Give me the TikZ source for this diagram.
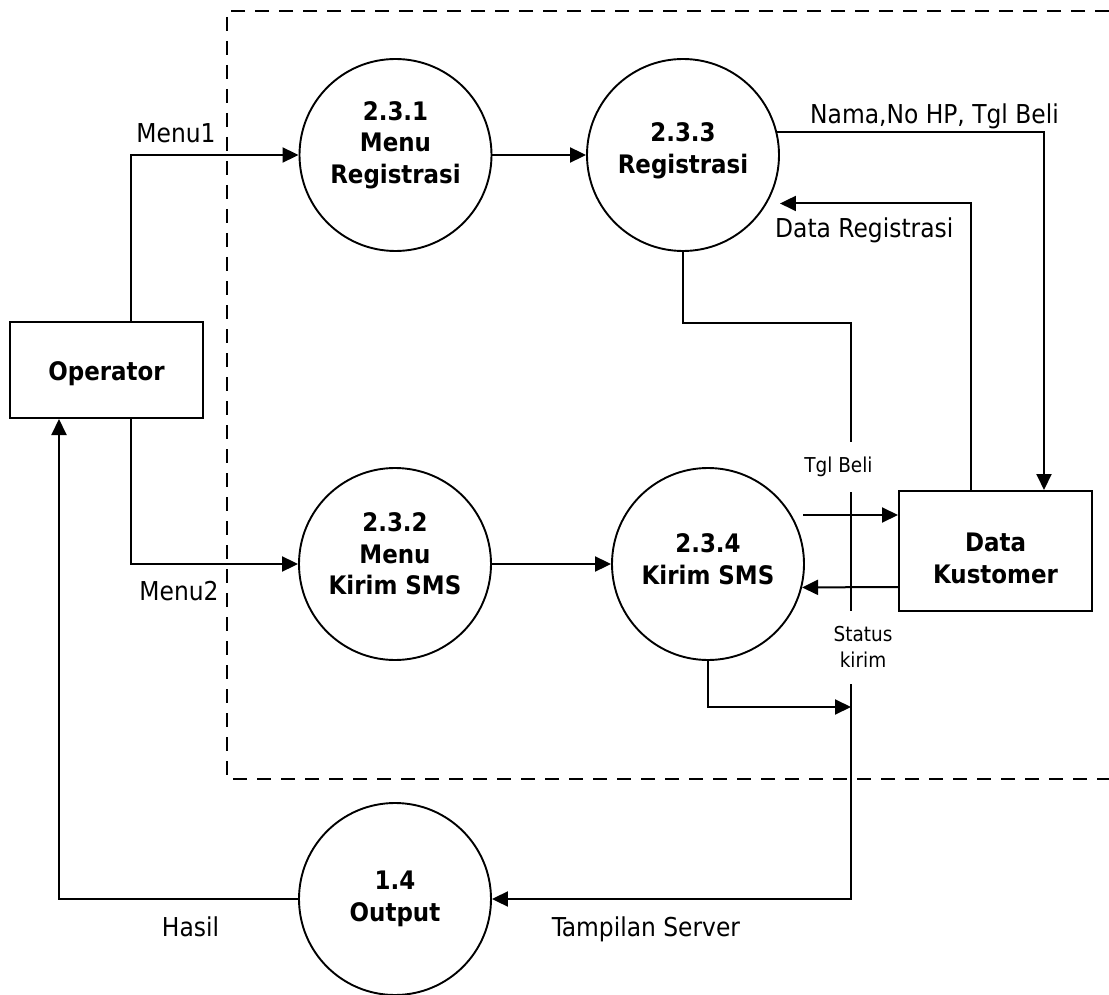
\documentclass[tikz,border=0pt]{standalone}
\usepackage{fontspec}
\setmainfont{DejaVu Sans Condensed}
\usetikzlibrary{arrows.meta,calc}
\begin{document}
\begin{tikzpicture}[x=1pt,y=-1pt,
  proc/.style={circle,draw,line width=1.9pt,minimum size=192pt,inner sep=0pt},
  ptext/.style={align=center,inner sep=0pt,font=\fontsize{25.5}{31.5}\selectfont\bfseries},
  ent/.style={rectangle,draw,line width=2pt,inner sep=0pt},
  flow/.style={line width=2pt,-{Triangle[length=16pt,width=15pt]}},
  lbl/.style={font=\fontsize{26}{28}\selectfont,inner sep=0pt},
  slbl/.style={font=\fontsize{20.5}{26}\selectfont,align=center,fill=white,inner xsep=2pt,inner ysep=0pt},
  boundary/.style={line width=2pt,dash pattern=on 14pt off 10pt}]
\useasboundingbox (0,0) rectangle (1109,995);
% system boundary
\draw[boundary] (1109,11) -- (227,11) -- (227,779) -- (1109,779);
% entities and processes
\node[ent,minimum width=193pt,minimum height=96pt] (op) at (106.5,370) {};
\node[ent,minimum width=193pt,minimum height=120pt] (dk) at (995.5,551) {};
\node[proc] (p231) at (395.5,155) {};
\node[proc] (p233) at (683,155) {};
\node[proc] (p232) at (395,564) {};
\node[proc] (p234) at (708,564) {};
\node[proc] (p14) at (395,899) {};
% texts inside the shapes
\node[ptext] (top) at ([yshift=-4pt]op.center) {Operator};
\node[ptext] (tdk) at ([yshift=-7.5pt]dk.center) {Data\\Kustomer};
\node[ptext] (t231) at ([yshift=10pt]p231.center) {2.3.1\\Menu\\Registrasi};
\node[ptext] (t233) at ([yshift=4pt]p233.center) {2.3.3\\Registrasi};
\node[ptext] (t232) at ([yshift=10pt]p232.center) {2.3.2\\Menu\\Kirim SMS};
\node[ptext] (t234) at ([yshift=5pt]p234.center) {2.3.4\\Kirim SMS};
\node[ptext] (t14) at ([yshift=0pt]p14.center) {1.4\\Output};
% helper coordinates
\coordinate (bus) at (851,323);
\coordinate (j2) at (851,707);
\coordinate (tb) at (803,515);
% flows
\draw[flow] ([xshift=24.5pt]op.north) |- (p231);
\draw[flow] ([xshift=24.5pt]op.south) |- (p232);
\draw[flow] (p231) -- (p233);
\draw[flow] (p232) -- (p234);
\draw[flow] (p233.14.5) -| ([xshift=48.5pt]dk.north);
\draw[flow,shorten >=13pt] ([xshift=-24.5pt]dk.north) |- (p233.-30);
\draw[flow] (p233.south) |- (bus) |- (p14);
\draw[flow] (tb) -- (tb -| dk.west);
\draw[flow] ([yshift=-36pt]dk.west) -- (p234.-14);
\draw[flow] (p234.south) |- (j2);
\draw[flow] (p14) -| ([xshift=-47.5pt]op.south);
% labels
\node[lbl,anchor=base] (lm1) at (176,143) {Menu1};
\node[lbl,anchor=base] (lm2) at (179,600) {Menu2};
\node[lbl,anchor=base west] (lnama) at (810,124) {Nama,No HP, Tgl Beli};
\node[lbl,anchor=base west] (ldr) at (775,238) {Data Registrasi};
\node[lbl,anchor=base] (lhasil) at (190.5,936) {Hasil};
\node[lbl,anchor=base] (ltamp) at (646,936) {Tampilan Server};
\node[slbl,minimum height=50pt] (ltgl) at (838.5,467) {Tgl Beli};
\node[slbl,minimum height=73pt] (lstat) at (863,647) {Status\\kirim};
\end{tikzpicture}
\end{document}
